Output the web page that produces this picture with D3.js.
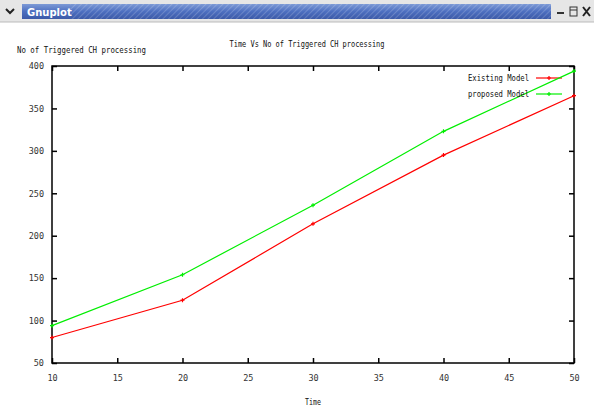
<!DOCTYPE html>
<html><head><meta charset="utf-8">
<script src="https://cdn.jsdelivr.net/npm/d3@7"></script>
<style>body{margin:0;background:#fff}svg{display:block}text{font-family:"DejaVu Sans Mono",monospace}</style>
</head><body>
<svg id="c" width="594" height="410"></svg>
<script>
const times = [10, 20, 30, 40, 50];
const existingModel = [80, 124, 214, 295, 365];
const proposedModel = [94, 154, 236, 323, 394];
const xTicks = [10, 15, 20, 25, 30, 35, 40, 45, 50];
const yTicks = [50, 100, 150, 200, 250, 300, 350, 400];
const seriesNames = ["Existing Model", "proposed Model"];
const seriesColors = ["#ff0000", "#00ee00"];

const svg = d3.select("#c");
const W = 594, H = 410;
const m = {l: 52, r: 574, t: 66, b: 363};

// window title bar
const defs = svg.append("defs");
const g1 = defs.append("linearGradient").attr("id","tb").attr("x1",0).attr("y1",0).attr("x2",0).attr("y2",1);
g1.append("stop").attr("offset","0%").attr("stop-color","#7d9ad6");
g1.append("stop").attr("offset","50%").attr("stop-color","#4d6fc0");
g1.append("stop").attr("offset","100%").attr("stop-color","#3c5aa8");
const pat = defs.append("pattern").attr("id","stripes").attr("width",4).attr("height",4)
  .attr("patternUnits","userSpaceOnUse").attr("patternTransform","rotate(45)");
pat.append("rect").attr("width",1).attr("height",4).attr("fill","rgba(255,255,255,0.18)");

svg.append("rect").attr("x",0).attr("y",0).attr("width",W).attr("height",22).attr("fill","#e6e6e6");
svg.append("rect").attr("x",22).attr("y",4).attr("width",529).attr("height",15).attr("fill","url(#tb)");
svg.append("rect").attr("x",70).attr("y",4).attr("width",481).attr("height",15).attr("fill","url(#stripes)");
svg.append("path").attr("d","M6,9 L10,13 L14,9").attr("fill","none").attr("stroke","#222").attr("stroke-width",2);
svg.append("text").attr("x",27).attr("y",16).attr("fill","#fff").attr("font-weight","bold")
  .style("font-family","'DejaVu Sans',sans-serif").attr("font-size",10).text("Gnuplot");
svg.append("rect").attr("x",557).attr("y",12).attr("width",7).attr("height",2).attr("fill","#333");
svg.append("rect").attr("x",570).attr("y",7).attr("width",7).attr("height",9).attr("fill","none").attr("stroke","#333").attr("stroke-width",1);
svg.append("line").attr("x1",570).attr("x2",577).attr("y1",10).attr("y2",10).attr("stroke","#333");
svg.append("path").attr("d","M583,7 L590,16 M590,7 L583,16").attr("stroke","#222").attr("stroke-width",2);
svg.append("line").attr("x1",0).attr("x2",W).attr("y1",22).attr("y2",22).attr("stroke","#bbb");

const x = d3.scaleLinear().domain([10, 50]).range([m.l, m.r]);
const y = d3.scaleLinear().domain([50, 400]).range([m.b, m.t]);

const fs = 8.5;
function txt(xp, yp, s, anchor, len) {
  const t = svg.append("text").attr("x", xp).attr("y", yp).attr("font-size", fs)
    .attr("text-anchor", anchor || "start").attr("fill", "#111").text(s);
  if (len) t.attr("textLength", len).attr("lengthAdjust", "spacingAndGlyphs");
  return t;
}

// axes (ticks on all four sides, gnuplot style)
const axB = d3.axisBottom(x).tickValues(xTicks).tickSize(-5).tickPadding(12).tickFormat(d3.format("d"));
const axL = d3.axisLeft(y).tickValues(yTicks).tickSize(-5).tickPadding(8).tickFormat(d3.format("d"));
const axT = d3.axisTop(x).tickValues(xTicks).tickSize(-5).tickFormat("");
const axR = d3.axisRight(y).tickValues(yTicks).tickSize(-5).tickFormat("");
function style(g){ g.select(".domain").remove(); g.selectAll("line").attr("stroke","#000").attr("stroke-width",1.5);
  g.selectAll("text").attr("font-size",fs).style("font-family","'DejaVu Sans Mono',monospace").attr("fill","#333"); }
svg.append("g").attr("transform",`translate(0,${m.b})`).call(axB).call(style);
svg.append("g").attr("transform",`translate(${m.l},0)`).call(axL).call(style);
svg.append("g").attr("transform",`translate(0,${m.t})`).call(axT).call(style);
svg.append("g").attr("transform",`translate(${m.r},0)`).call(axR).call(style);

// border
svg.append("rect").attr("x",m.l).attr("y",m.t).attr("width",m.r-m.l).attr("height",m.b-m.t)
  .attr("fill","none").attr("stroke","#000").attr("stroke-width",1.5);

// texts
txt(307, 47, "Time Vs No of Triggered CH processing", "middle", 155);
txt(17, 53, "No of Triggered CH processing", "start", 129);
txt(313, 405, "Time", "middle", 16);

// series
const series = [existingModel, proposedModel];
const line = d3.line().x((d,i)=>x(times[i])).y(d=>y(d));
series.forEach((vals, k) => {
  svg.append("path").datum(vals).attr("d", line).attr("fill","none")
    .attr("stroke", seriesColors[k]).attr("stroke-width", 1.2);
  svg.selectAll(null).data(vals).enter().append("path")
    .attr("d", (d,i)=>`M${x(times[i])-2},${y(d)} h4 M${x(times[i])},${y(d)-2} v4`)
    .attr("stroke", seriesColors[k]).attr("stroke-width", 1.2);
  // legend
  const ly = 78 + k*16;
  txt(529, ly + 3, seriesNames[k], "end", 61);
  svg.append("line").attr("x1",536).attr("x2",562).attr("y1",ly).attr("y2",ly)
    .attr("stroke", seriesColors[k]).attr("stroke-width",1.2);
  svg.append("path").attr("d",`M547,${ly} h4 M549,${ly-2} v4`).attr("stroke",seriesColors[k]).attr("stroke-width",1.2);
});
</script>
</body></html>
